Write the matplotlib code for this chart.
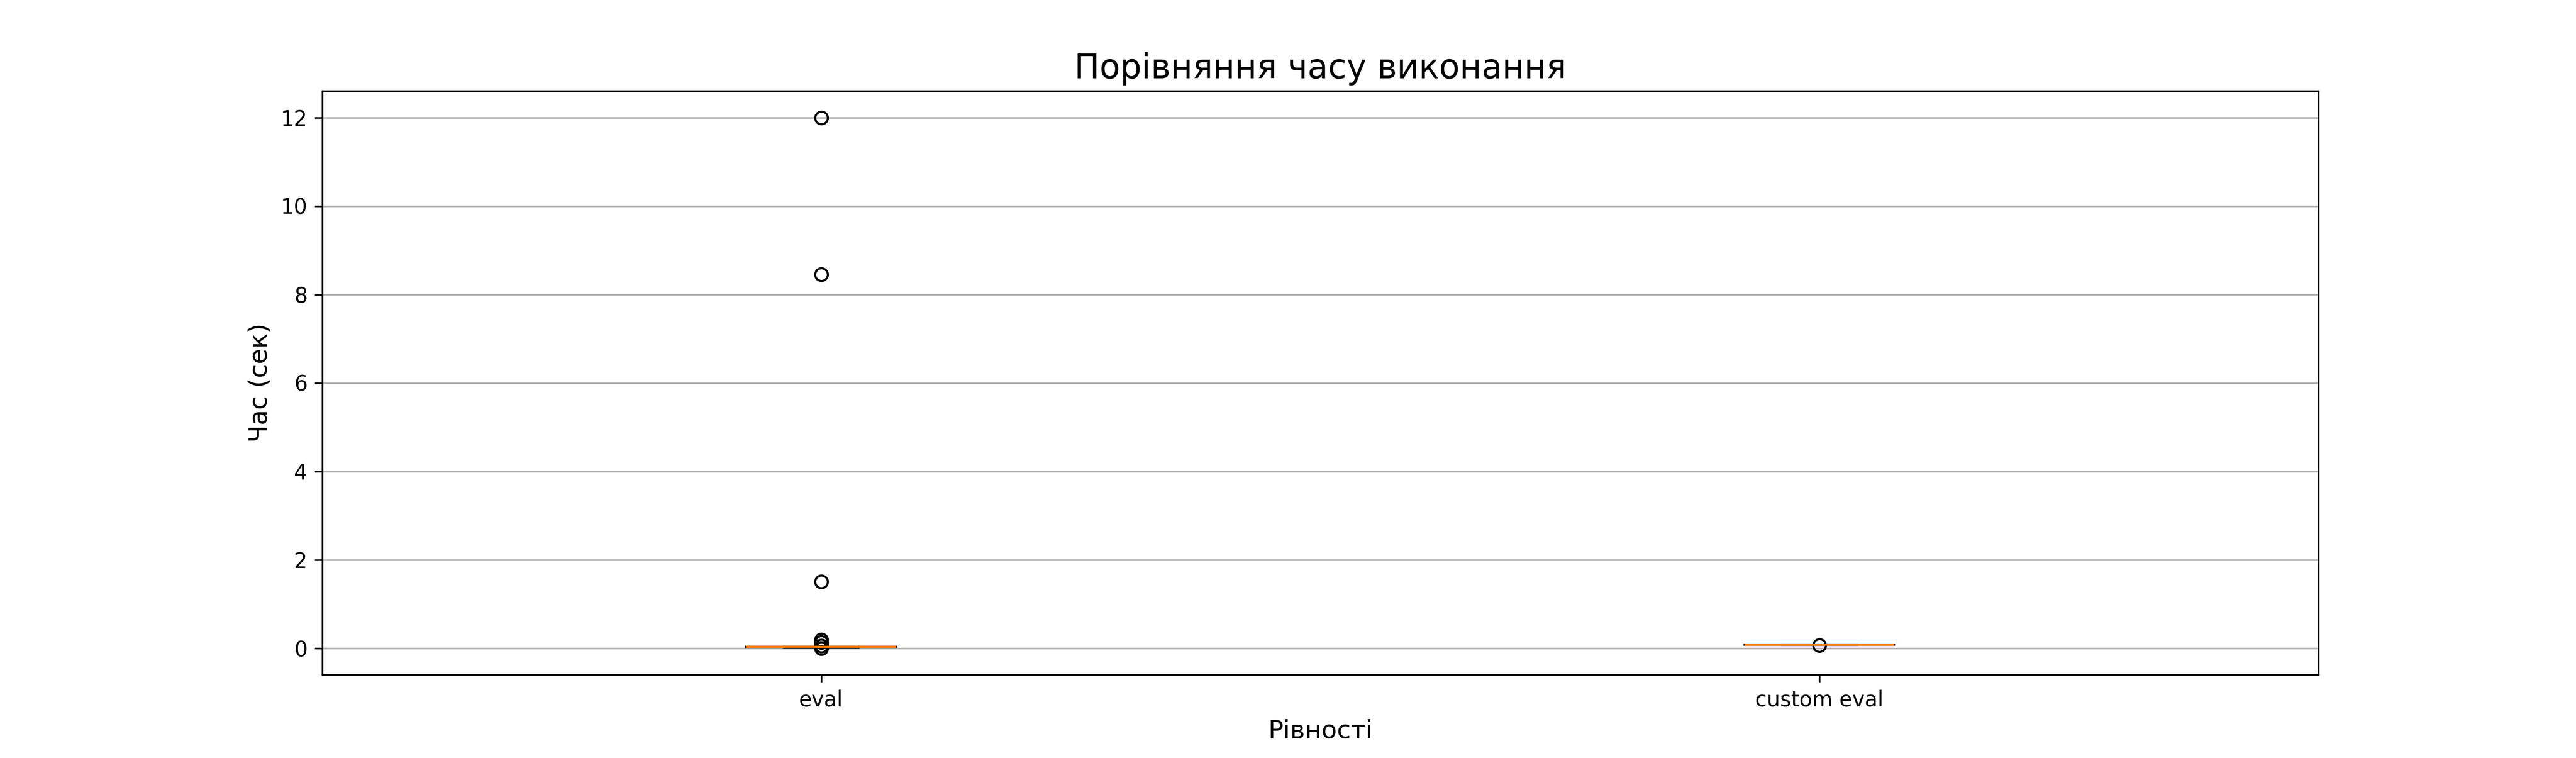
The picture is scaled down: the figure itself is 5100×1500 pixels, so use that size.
import matplotlib
matplotlib.use('Agg')
import matplotlib.pyplot as plt

# час виконання (сек) для кожного методу
labels = ['eval', 'custom eval']
eval_times = [0.020, 0.025, 0.030, 0.022, 0.028, 0.031, 0.024, 0.027, 0.029, 0.026,
              0.023, 0.030, 0.021, 0.032, 0.025, 0.027, 0.028, 0.024, 0.026, 0.029,
              0.022, 0.031, 0.027, 0.025,
              0.0, 0.05, 0.13, 0.19, 1.5, 8.45, 12.0]
custom_times = [0.070, 0.071, 0.072, 0.071, 0.070, 0.072, 0.071, 0.0705, 0.0715, 0.065]

fig = plt.figure(figsize=(17, 5))
plt.boxplot([eval_times, custom_times], tick_labels=labels)
plt.title('Порівняння часу виконання', fontsize=16)
plt.xlabel('Рівності', fontsize=12)
plt.ylabel('Час (сек)', fontsize=12)
plt.grid(axis='y')

plt.savefig('out.png', dpi=300)
